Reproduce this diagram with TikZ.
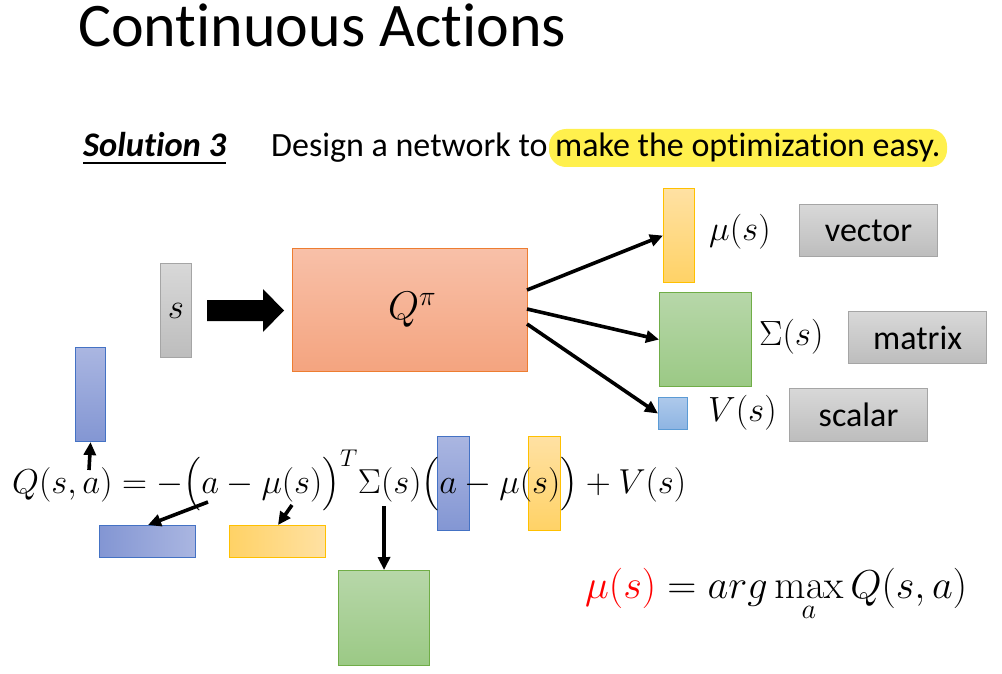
\RequirePackage{fix-cm}
\documentclass[tikz,border=0pt]{standalone}
\usepackage{amsmath}
\usepackage[no-math]{fontspec}
\setmainfont[Ligatures=NoCommon]{Carlito}
\usepackage{graphicx}
\usetikzlibrary{arrows.meta}
\definecolor{grayT}{HTML}{D8D8D8}
\definecolor{grayB}{HTML}{BDBDBD}
\definecolor{grayD}{HTML}{A5A5A5}
\definecolor{orT}{HTML}{F8C0A8}
\definecolor{orB}{HTML}{F4A47F}
\definecolor{orD}{HTML}{ED7D31}
\definecolor{yeT}{HTML}{FFE1A3}
\definecolor{yeB}{HTML}{FFD266}
\definecolor{yeD}{HTML}{FFC000}
\definecolor{grT}{HTML}{B7D7A9}
\definecolor{grB}{HTML}{9BC985}
\definecolor{grD}{HTML}{70AD47}
\definecolor{lbT}{HTML}{ADC9EB}
\definecolor{lbB}{HTML}{8DB4E2}
\definecolor{lbD}{HTML}{5B9BD5}
\definecolor{dbT}{HTML}{AAB6E1}
\definecolor{dbB}{HTML}{8396D3}
\definecolor{dbD}{HTML}{4472C4}
\definecolor{hl}{HTML}{FFF04D}
\begin{document}
\begin{tikzpicture}[x=1pt,y=-1pt,
  box/.style={draw, line width=1.1pt, inner sep=0pt, anchor=north west},
  graybox/.style={box, top color=grayT, bottom color=grayB, draw=grayD},
  orbox/.style={box, top color=orT, bottom color=orB, draw=orD},
  yebox/.style={box, top color=yeT, bottom color=yeB, draw=yeD},
  yehbox/.style={box, left color=yeB, right color=yeT, draw=yeD},
  grbox/.style={box, top color=grT, bottom color=grB, draw=grD},
  lbbox/.style={box, top color=lbT, bottom color=lbB, draw=lbD},
  dbbox/.style={box, top color=dbT, bottom color=dbB, draw=dbD},
  dbhbox/.style={box, left color=dbB, right color=dbT, draw=dbD},
  conn/.style={line width=3.6pt, -{Triangle[length=13pt,width=12pt]}},
  txt/.style={inner sep=0pt, font=\fontsize{34}{40}\selectfont},
  mth/.style={inner sep=0pt, font=\fontsize{35}{41}\selectfont}]
\useasboundingbox (0,0) rectangle (1002,674);
\fill[white] (0,0) rectangle (1002,674);

% title
\node[inner sep=0pt, anchor=base west, font=\fontsize{62}{70}\selectfont] (title) at (78,47) {Continuous Actions};

% solution line
\fill[hl, rounded corners=17pt] (549,129) rectangle (947,167);
\node[txt, anchor=base west, font=\fontsize{34.5}{40}\selectfont\bfseries\itshape] (sol) at (83,157) {Solution 3};
\draw[line width=1.4pt] ([yshift=-6pt]sol.base west) -- ([yshift=-6pt]sol.base east);
\node[txt, anchor=base west] (design) at (271,157) {Design a network to make the optimization easy.};

% network
\node[graybox, minimum width=31pt, minimum height=94pt] (s) at (160,263) {};
\node[mth] at (s.center) {$s$};
\fill (207,300) -- (263,300) -- (263,289) -- (284,310.5) -- (263,332) -- (263,321) -- (207,321) -- cycle;
\node[orbox, minimum width=235pt, minimum height=123pt] (Q) at (292,248) {};
\node[inner sep=0pt, font=\fontsize{40}{46}\selectfont] at ([xshift=2pt]Q.center) {$Q^{\pi}$};

\node[yebox, minimum width=31pt, minimum height=94pt] (mu) at (663,188) {};
\node[grbox, minimum width=92pt, minimum height=94pt] (sig) at (659,292) {};
\node[lbbox, minimum width=29pt, minimum height=32pt] (V) at (658,397) {};

\node[mth, anchor=west] (mul) at (709,232) {$\mu(s)$};
\node[mth, anchor=west] (sigl) at (759,337) {$\Sigma(s)$};
\node[mth, anchor=west] (Vl) at (708,413) {$V(s)$};

\node[graybox, minimum width=138pt, minimum height=52pt] (vec) at (799,204) {};
\node[txt] at (vec.center) {vector};
\node[graybox, minimum width=138pt, minimum height=52pt] (mat) at (848,311) {};
\node[txt] at (mat.center) {matrix};
\node[graybox, minimum width=138pt, minimum height=53pt] (sca) at (789,388) {};
\node[txt] at (sca.center) {scalar};

\coordinate (q1) at (527,290);
\coordinate (q2) at (527,309);
\coordinate (q3) at (527,324);
\draw[conn] (q1) -- (mu.west);
\draw[conn] (q2) -- (sig.west);
\draw[conn] (q3) -- (V.west);

% equation boxes
\node[dbbox, minimum width=30pt, minimum height=94pt] (a0) at (75,347) {};
\node[dbbox, minimum width=32pt, minimum height=94pt] (a2) at (437,436) {};
\node[yebox, minimum width=32pt, minimum height=94pt] (m2) at (528,436) {};
\node[dbhbox, minimum width=96pt, minimum height=32pt] (a1) at (99,525) {};
\node[yehbox, minimum width=96pt, minimum height=32pt] (m1) at (229,525) {};
\node[grbox, minimum width=91pt, minimum height=95pt] (S1) at (338,570) {};

% equation
\node[inner sep=0pt, anchor=base west, font=\fontsize{29}{35}\selectfont] (eq) at (12,493)
  {\resizebox{674pt}{!}{$Q(s,a)=-\bigl(a-\mu(s)\bigr)^{T}\Sigma(s)\bigl(a-\mu(s)\bigr)+V(s)$}};

\coordinate (e0) at (89,470);
\coordinate (e1) at (208,502);
\coordinate (e2) at (292,505);
\coordinate (e3) at (384,506);
\coordinate (t1) at (148,525);
\coordinate (t2) at (278,525);
\draw[conn] (e0) -- (a0.south);
\draw[conn] (e1) -- (t1);
\draw[conn] (e2) -- (t2);
\draw[conn] (e3) -- (S1.north);

% argmax
\node[inner sep=0pt, anchor=base west, font=\fontsize{30}{36}\selectfont] (am) at (585,598)
  {\resizebox{382pt}{!}{$\displaystyle\color{red}\mu(s)\color{black}=arg\max_{a}Q(s,a)$}};
\end{tikzpicture}
\end{document}
